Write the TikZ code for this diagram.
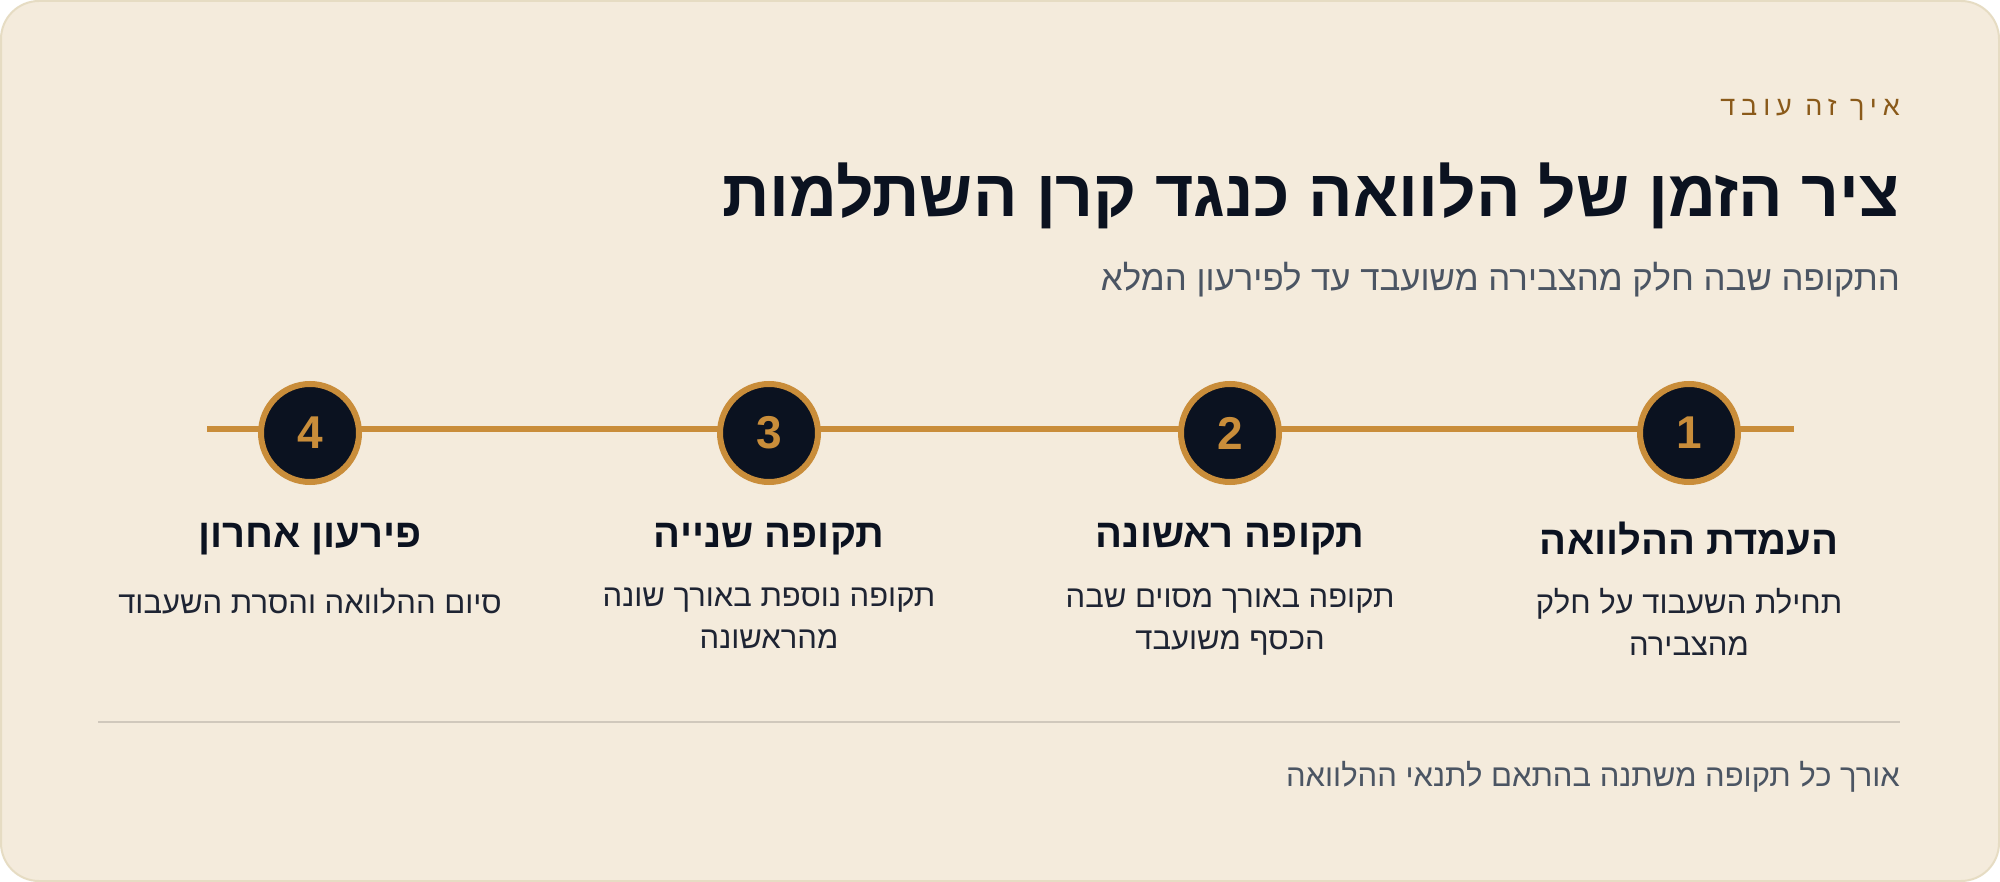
\documentclass[tikz,border=0pt]{standalone}
\usepackage{fontspec}
\TeXXeTstate=1
\newfontfamily\heb[Script=Hebrew]{Liberation Sans}
\newfontfamily\hebsp[Script=Hebrew,LetterSpace=22]{Liberation Sans}
\definecolor{cardbg}{HTML}{F4EBDC}
\definecolor{cardline}{HTML}{E6DCC3}
\definecolor{gold}{HTML}{C98D3A}
\definecolor{navy}{HTML}{0B1220}
\definecolor{brown}{HTML}{8A5A1A}
\definecolor{graytxt}{HTML}{4B5563}
\definecolor{desctxt}{HTML}{1E2433}
\definecolor{sepline}{HTML}{D0C8BC}
\tikzset{
  stepcircle/.style={circle, draw=gold, line width=6pt, fill=navy, minimum size=98pt, inner sep=0pt,
    text=gold, font=\heb\bfseries\fontsize{46}{46}\selectfont},
  steptitle/.style={inner sep=0pt, text=navy, font=\heb\bfseries\fontsize{40}{46}\selectfont},
  stepdesc/.style={inner sep=0pt, text=desctxt, align=center, font=\heb\fontsize{31}{42}\selectfont},
}
\begin{document}
\begin{tikzpicture}[x=1pt,y=-1pt]
\useasboundingbox (0,0) rectangle (2000,882);
\fill[white] (0,0) rectangle (2000,882);
\draw[cardline, fill=cardbg, line width=2pt, rounded corners=38pt] (1,1) rectangle (1999,881);
% header
\node[anchor=east, inner sep=0pt, text=brown, font=\hebsp\fontsize{27}{30}\selectfont] (eyebrow) at (1900,110) {\beginR איך זה עובד\endR};
\node[anchor=east, inner sep=0pt, text=navy, font=\heb\bfseries\fontsize{66}{72}\selectfont] (title) at (1900,196) {\beginR ציר הזמן של הלוואה כנגד קרן השתלמות\endR};
\node[anchor=east, inner sep=0pt, text=graytxt, font=\heb\fontsize{34.8}{40}\selectfont] (subtitle) at (1900,280) {\beginR התקופה שבה חלק מהצבירה משועבד עד לפירעון המלא\endR};
% timeline
\coordinate (lstart) at (207,429);
\coordinate (lend) at (1794,429);
\draw[gold, line width=6pt] (lstart) -- (lend);
\node[stepcircle] (c4) at (310,433) {4};
\node[stepcircle] (c3) at (769,433) {3};
\node[stepcircle] (c2) at (1230,433) {2};
\node[stepcircle] (c1) at (1689,433) {1};
% titles
\node[steptitle] (t1) at (1689,539) {\beginR העמדת ההלוואה\endR};
\node[steptitle] (t2) at (1230,539) {\beginR תקופה ראשונה\endR};
\node[steptitle] (t3) at (769,539) {\beginR תקופה שנייה\endR};
\node[steptitle] (t4) at (310,539) {\beginR פירעון אחרון\endR};
% descriptions
\node[stepdesc, anchor=north] (d1) at (1689,588) {\beginR תחילת השעבוד על חלק\endR\\\beginR מהצבירה\endR};
\node[stepdesc, anchor=north] (d2) at (1230,588) {\beginR תקופה באורך מסוים שבה\endR\\\beginR הכסף משועבד\endR};
\node[stepdesc, anchor=north] (d3) at (769,588) {\beginR תקופה נוספת באורך שונה\endR\\\beginR מהראשונה\endR};
\node[stepdesc, anchor=north] (d4) at (310,588) {\beginR סיום ההלוואה והסרת השעבוד\endR};
% separator
\coordinate (sepL) at (98,722);
\coordinate (sepR) at (1900,722);
\draw[sepline, line width=2pt] (sepL) -- (sepR);
\node[anchor=east, inner sep=0pt, text=graytxt, font=\heb\fontsize{31}{36}\selectfont] (footer) at (1900,777) {\beginR אורך כל תקופה משתנה בהתאם לתנאי ההלוואה\endR};
\end{tikzpicture}
\end{document}
